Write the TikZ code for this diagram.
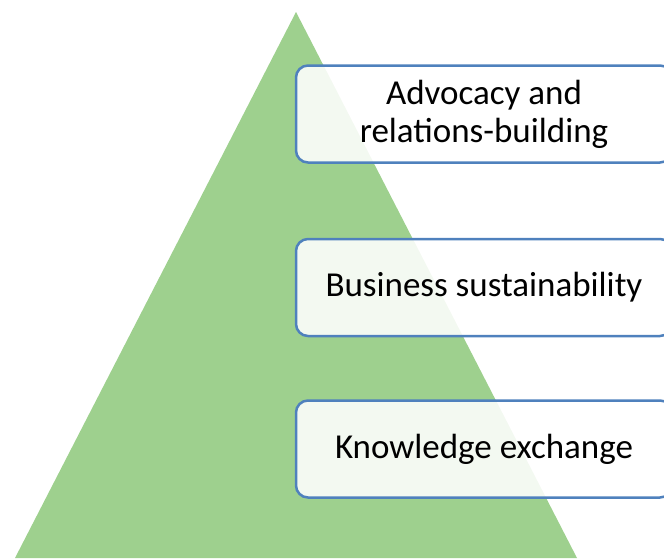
\documentclass[tikz,border=0pt]{standalone}
\usepackage{fontspec}
\setmainfont{Carlito}
\definecolor{pyrgreen}{RGB}{158,208,142}
\definecolor{boxblue}{RGB}{79,129,189}
\tikzset{
  tierbox/.style={draw=boxblue, line width=2.5pt, rounded corners=12pt,
    fill=white, fill opacity=0.88, text opacity=1,
    minimum width=376pt, minimum height=97pt, align=center,
    font=\fontsize{35}{38}\selectfont}
}
\begin{document}
\begin{tikzpicture}[x=1pt,y=-1pt]
  % page frame
  \clip (0,0) rectangle (664,558);
  % the pyramid
  \coordinate (apex) at (296,12);
  \coordinate (baseL) at (15,558);
  \coordinate (baseR) at (577,558);
  \fill[pyrgreen] (apex) -- (baseR) -- (baseL) -- cycle;
  % the three tiers
  \node[tierbox] (advocacy) at (484,114) {Advocacy and\\relations-building};
  \node[tierbox] (business) at (484,287.5) {Business sustainability};
  \node[tierbox] (knowledge) at (484,449) {Knowledge exchange};
\end{tikzpicture}
\end{document}
